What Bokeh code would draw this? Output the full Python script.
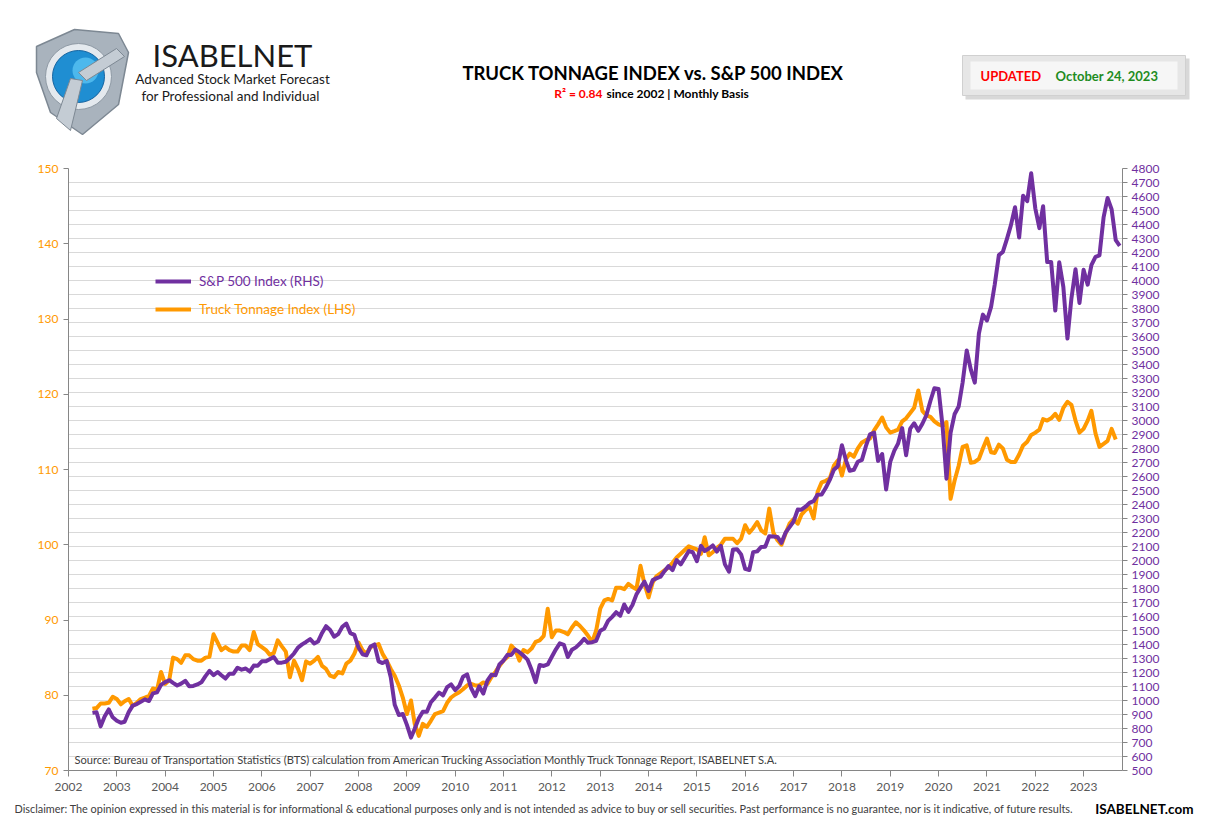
import pandas as pd
from bokeh.plotting import figure
from bokeh.layouts import column
from bokeh.models import (Range1d, LinearAxis, FixedTicker, DatetimeTickFormatter, Legend, Label)
from bokeh.core.properties import value
from bokeh.embed import file_html
from bokeh.resources import INLINE

# S&P 500, month-end close, Jul 2002 - Oct 2023
sp500 = [
    911.6, 916.1, 815.3, 885.8, 936.3, 879.8,  # 2002
    855.7, 841.2, 848.2, 916.9, 963.6, 974.5, 990.3, 1008.0, 996.0, 1050.7, 1058.2, 1111.9,
    1131.1, 1144.9, 1126.2, 1107.3, 1120.7, 1140.8, 1101.7, 1104.2, 1114.6, 1130.2, 1173.8, 1211.9,
    1181.3, 1203.6, 1180.6, 1156.9, 1191.5, 1191.3, 1234.2, 1220.3, 1228.8, 1207.0, 1249.5, 1248.3,
    1280.1, 1280.7, 1294.9, 1310.6, 1270.1, 1270.2, 1276.7, 1303.8, 1335.9, 1377.9, 1400.6, 1418.3,
    1438.2, 1406.8, 1420.9, 1482.4, 1530.6, 1503.4, 1455.3, 1474.0, 1526.8, 1549.4, 1481.1, 1468.4,
    1378.6, 1330.6, 1322.7, 1385.6, 1400.4, 1280.0, 1267.4, 1282.8, 1166.4, 968.8, 896.2, 903.3,
    825.9, 735.1, 797.9, 872.8, 919.1, 919.3, 987.5, 1020.6, 1057.1, 1036.2, 1095.6, 1115.1,
    1073.9, 1104.5, 1169.4, 1186.7, 1089.4, 1030.7, 1101.6, 1049.3, 1141.2, 1183.3, 1180.6, 1257.6,
    1286.1, 1327.2, 1325.8, 1363.6, 1345.2, 1320.6, 1292.3, 1218.9, 1131.4, 1253.3, 1247.0, 1257.6,
    1312.4, 1365.7, 1408.5, 1397.9, 1310.3, 1362.2, 1379.3, 1406.6, 1440.7, 1412.2, 1416.2, 1426.2,
    1498.1, 1514.7, 1569.2, 1597.6, 1630.7, 1606.3, 1685.7, 1633.0, 1681.6, 1756.5, 1805.8, 1848.4,
    1782.6, 1859.5, 1872.3, 1883.9, 1923.6, 1960.2, 1931.0, 2003.4, 1972.3, 2018.1, 2067.6, 2058.9,
    1995.0, 2104.5, 2067.9, 2085.5, 2107.4, 2063.1, 2104.0, 1972.2, 1920.0, 2079.4, 2080.4, 2043.9,
    1940.2, 1932.2, 2059.7, 2065.3, 2096.9, 2098.9, 2173.6, 2170.9, 2168.3, 2126.2, 2199.0, 2238.8,
    2278.9, 2363.6, 2362.7, 2384.2, 2411.8, 2423.4, 2470.3, 2471.7, 2519.4, 2575.3, 2647.6, 2673.6,
    2823.8, 2713.8, 2640.9, 2648.1, 2705.3, 2718.4, 2816.3, 2901.5, 2914.0, 2711.7, 2760.2, 2506.9,
    2704.1, 2784.5, 2834.4, 2945.8, 2752.1, 2941.8, 2980.4, 2926.5, 2976.7, 3037.6, 3141.0, 3230.8,
    3225.5, 2954.2, 2584.6, 2912.4, 3044.3, 3100.3, 3271.1, 3500.3, 3363.0, 3270.0, 3621.6, 3756.1,
    3714.2, 3811.2, 3972.9, 4181.2, 4204.1, 4297.5, 4395.3, 4522.7, 4307.5, 4605.4, 4567.0, 4766.2,
    4515.6, 4373.9, 4530.4, 4131.9, 4132.2, 3785.4, 4130.3, 3955.0, 3585.6, 3872.0, 4080.1, 3839.5,
    4076.6, 3970.2, 4109.3, 4169.5, 4179.8, 4450.4, 4589.0, 4507.7, 4288.1, 4247.7,  # 2023
]

# ATA truck tonnage index, Jul 2002 - Sep 2023
truck_tonnage = [
    78.2, 78.3, 78.9, 78.9, 79.0, 79.8,  # 2002
    79.5, 78.8, 79.2, 79.5, 78.6, 79.0, 79.5, 79.7, 79.9, 80.9, 80.7, 83.1,
    81.5, 82.0, 85.0, 84.8, 84.3, 85.3, 85.3, 84.8, 84.6, 84.6, 85.0, 85.1,
    88.1, 87.0, 86.0, 86.4, 86.0, 85.8, 85.8, 86.6, 86.6, 86.0, 88.4, 86.8,
    86.4, 86.0, 85.4, 85.6, 87.3, 86.5, 85.8, 82.4, 84.6, 83.5, 82.0, 84.5,
    84.2, 84.6, 85.1, 83.9, 83.5, 82.6, 82.4, 83.1, 82.9, 84.2, 84.6, 85.5,
    87.0, 86.0, 85.5, 86.4, 86.6, 86.8, 85.5, 84.6, 83.5, 82.6, 81.3, 79.7,
    77.5, 79.3, 76.2, 74.6, 76.2, 75.8, 76.6, 77.5, 77.7, 77.9, 79.0, 79.7,
    80.1, 80.4, 80.8, 81.3, 81.5, 81.3, 81.3, 81.7, 81.5, 82.4, 83.1, 83.9,
    84.6, 85.1, 86.6, 86.0, 84.6, 86.0, 85.7, 86.2, 87.1, 87.3, 87.9, 91.5,
    87.7, 88.6, 88.6, 88.4, 88.1, 89.0, 89.7, 89.2, 88.6, 87.9, 87.1, 88.6,
    91.5, 92.6, 92.8, 92.6, 94.3, 94.3, 94.1, 94.8, 94.4, 94.1, 97.2, 94.8,
    93.0, 95.0, 95.8, 96.2, 96.6, 97.0, 97.6, 98.3, 98.8, 99.3, 99.8, 99.6,
    99.4, 98.8, 101.0, 98.6, 99.0, 99.6, 100.0, 100.8, 100.8, 100.8, 100.2, 100.8,
    102.6, 101.6, 102.2, 103.0, 101.9, 101.5, 104.8, 101.6, 100.6, 100.0, 101.5, 102.8,
    103.4, 102.8, 104.0, 104.6, 105.0, 103.5, 107.0, 108.3, 108.5, 108.8, 110.5, 111.2,
    109.2, 111.4, 112.1, 111.7, 112.8, 113.6, 113.9, 114.1, 115.2, 116.0, 116.9, 115.6,
    114.9, 115.1, 115.3, 116.4, 116.8, 117.5, 118.2, 120.5, 117.8, 117.2, 117.0, 116.4,
    116.0, 115.8, 116.3, 106.1, 108.5, 110.5, 113.0, 113.2, 110.9, 111.0, 111.4, 112.8,
    114.1, 112.3, 112.2, 113.3, 112.8, 111.3, 111.0, 111.0, 112.0, 113.2, 113.7, 114.6,
    114.9, 115.3, 116.7, 116.5, 116.8, 117.4, 116.6, 118.2, 119.0, 118.6, 116.5, 114.9,
    115.4, 116.5, 117.8, 114.8, 113.0, 113.4, 113.8, 115.4, 114.0,  # 2023
]

first_month = "2002-07-01"
years = list(range(2002, 2024))
tonnage_ticks = [70, 80, 90, 100, 110, 120, 130, 140, 150]
sp_ticks = list(range(500, 4801, 100))

PURPLE = "#7030A0"
ORANGE = "#FF9900"
FONT = "Lato"
W = 1195


def blank(height, y0):
    # figure used as a pixel canvas for header / footer (y grows downwards)
    f = figure(width=W, height=height, x_range=Range1d(0, W), y_range=Range1d(y0 + height, y0),
               output_backend="svg", toolbar_location=None, min_border=0, frame_align=False,
               x_axis_location=None, y_axis_location=None)
    f.grid.visible = False
    f.outline_line_color = None
    return f


def words(f, x, y, s, size, color="#000000", style="normal", align="left"):
    f.text(x=[x], y=[y], text=[s], text_font=value(FONT), text_font_size=size,
           text_color=color, text_font_style=style, text_align=align, text_baseline="middle")


# ---------------- header ----------------
hdr = blank(160, 0)

# logo, rough shield
hdr.patch([36, 74, 118, 128, 118, 82, 50, 36], [46, 29, 33, 52, 104, 134, 112, 72],
          fill_color="#A9B3BD", line_color="#7D8893", line_width=1.5)
hdr.circle(x=[78], y=[76], radius=33, fill_color="#E4E9EE", line_color="#8F9AA5")
hdr.circle(x=[78], y=[76], radius=26, fill_color="#1F8ED2", line_color="#1664A0")
hdr.circle(x=[85], y=[70], radius=13, fill_color="#4DB8EC", line_color=None)
hdr.patch([70, 82, 70, 56], [78, 80, 130, 118], fill_color="#C4CCD4", line_color="#7D8893")
hdr.patch([78, 86, 124, 116], [72, 80, 56, 48], fill_color="#C4CCD4", line_color="#7D8893")

words(hdr, 232, 54, "ISABELNET", "31px", "#1A1A1A", align="center")
words(hdr, 232, 78, "Advanced Stock Market Forecast", "13.5px", "#1A1A1A", align="center")
words(hdr, 230, 95, "for Professional and Individual", "13.5px", "#1A1A1A", align="center")

words(hdr, 653, 72, "TRUCK TONNAGE INDEX vs. S&P 500 INDEX", "18.5px", "#000000", "bold", "center")
words(hdr, 602, 93, "R\u00b2 = 0.84", "12px", "#FF0000", "bold", "right")
words(hdr, 606, 93, "since 2002 | Monthly Basis", "12px", "#000000", "bold", "left")

# "updated" box with shadow
hdr.quad(left=[965], right=[1189], top=[58], bottom=[99], fill_color="#C8C8C8",
         fill_alpha=0.7, line_color=None)
hdr.quad(left=[962], right=[1185], top=[55], bottom=[95], fill_color="#E6E6E6",
         line_color="#D0D0D0")
hdr.quad(left=[970], right=[1177], top=[61], bottom=[89], fill_color="#F6F6F6", line_color=None)
words(hdr, 980, 75, "UPDATED", "13px", "#FF0000", "bold")
words(hdr, 1055, 75, "October 24, 2023", "13px", "#1E8C1E", "bold")

# ---------------- chart ----------------
sp_dates = pd.date_range(first_month, periods=len(sp500), freq="MS")
tt_dates = pd.date_range(first_month, periods=len(truck_tonnage), freq="MS")

p = figure(width=W, height=640, x_axis_type="datetime", y_axis_location="right",
           x_range=Range1d(pd.Timestamp("2002-01-01"), pd.Timestamp("2023-10-22")),
           y_range=Range1d(500, 4800), frame_align=False,
           output_backend="svg", toolbar_location=None,
           min_border_left=68, min_border_right=W - 1122, min_border_top=8, min_border_bottom=30)
p.extra_y_ranges = {"tt": Range1d(70, 150)}
p.outline_line_color = None

# grid follows the right (S&P) axis
p.xgrid.visible = False
p.ygrid.ticker = FixedTicker(ticks=sp_ticks)
p.ygrid.grid_line_color = "#D9D9D9"


def style_axis(ax, color):
    ax.axis_line_color = "#868686"
    ax.major_tick_line_color = "#868686"
    ax.major_tick_out = 5
    ax.major_tick_in = 0
    ax.minor_tick_line_color = None
    ax.major_label_text_color = color
    ax.major_label_text_font = FONT
    ax.major_label_text_font_size = "12px"


# right axis: S&P 500
style_axis(p.yaxis[0], PURPLE)
p.yaxis[0].ticker = FixedTicker(ticks=sp_ticks)
p.yaxis[0].major_label_standoff = 4

# left axis: truck tonnage
left_axis = LinearAxis(y_range_name="tt", ticker=FixedTicker(ticks=tonnage_ticks))
style_axis(left_axis, ORANGE)
left_axis.major_label_standoff = 5
p.add_layout(left_axis, "left")

# bottom axis: years
year_ms = [pd.Timestamp(f"{y}-01-01").value // 10**6 for y in years]
style_axis(p.xaxis[0], "#595959")
p.xaxis[0].ticker = FixedTicker(ticks=year_ms)
p.xaxis[0].formatter = DatetimeTickFormatter(years="%Y", months="%Y", days="%Y", hours="%Y",
                                             minutes="%Y", seconds="%Y", milliseconds="%Y")
p.xaxis[0].major_tick_out = 6
p.xaxis[0].major_label_standoff = 6

r_tt = p.line(tt_dates, truck_tonnage, line_color=ORANGE, line_width=4, line_join="round",
              y_range_name="tt")
r_sp = p.line(sp_dates, sp500, line_color=PURPLE, line_width=4, line_join="round")

# legends, one per colour
for name, rend, y, col in [("S&P 500 Index (RHS)", r_sp, 479, PURPLE),
                           ("Truck Tonnage Index (LHS)", r_tt, 451, ORANGE)]:
    p.add_layout(Legend(items=[(name, [rend])], location=(87, y), padding=0, margin=0,
                        glyph_width=36, glyph_height=20, label_height=20, label_standoff=8,
                        label_text_color=col, label_text_font=FONT, label_text_font_size="13.5px",
                        border_line_color=None, background_fill_alpha=0))

p.add_layout(Label(x=74, y=759 - 160, x_units="canvas", y_units="canvas",
                   text="Source: Bureau of Transportation Statistics (BTS) calculation from American "
                        "Trucking Association Monthly Truck Tonnage Report, ISABELNET S.A.",
                   text_font=FONT, text_font_size="11.1px", text_color="#404040",
                   text_baseline="middle"))

# ---------------- footer ----------------
ftr = blank(17, 800)
words(ftr, 14, 808, "Disclaimer: The opinion expressed in this material is for informational & "
                    "educational purposes only and is not intended as advice to buy or sell "
                    "securities. Past performance is no guarantee, nor is it indicative, of future "
                    "results.", "10.9px", "#404040")
words(ftr, 1193, 808, "ISABELNET.com", "13.5px", "#000000", "bold", "right")

page = column(hdr, p, ftr, spacing=0)
open("out.html", "w").write(file_html(page, INLINE))
